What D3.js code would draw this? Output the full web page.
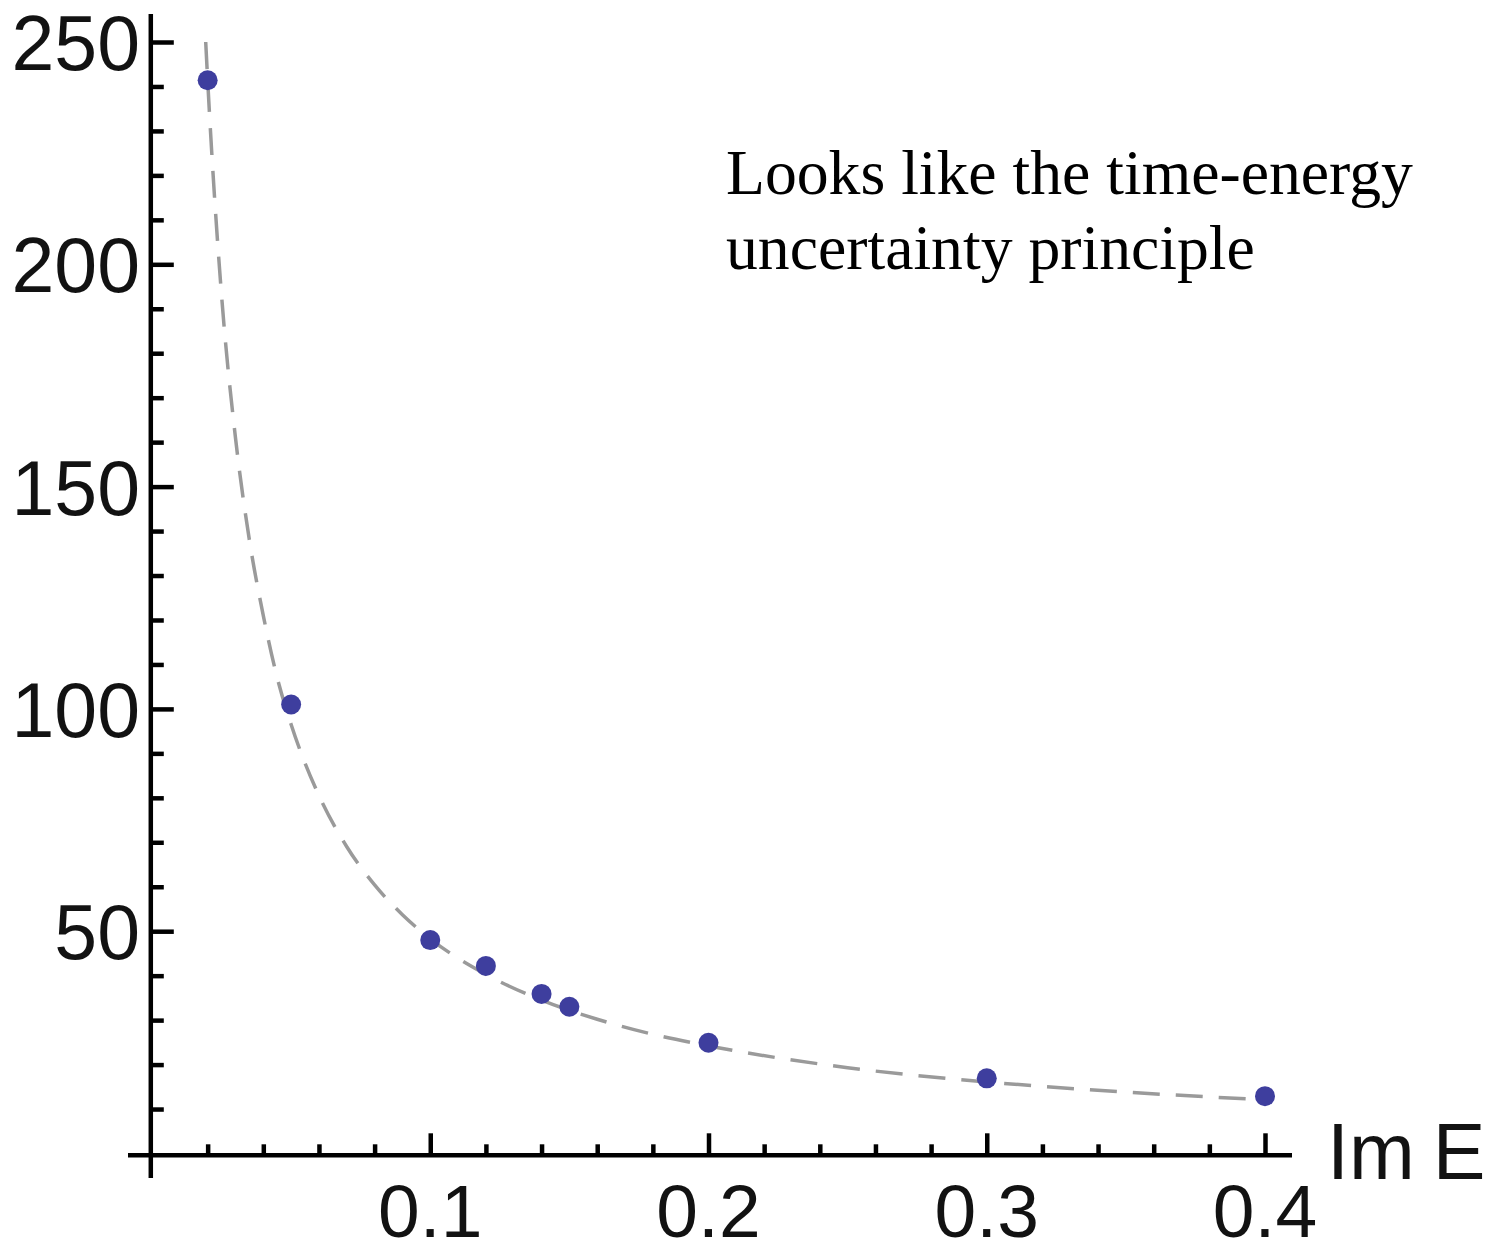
<!DOCTYPE html>
<html>
<head>
<meta charset="utf-8">
<script src="https://cdn.jsdelivr.net/npm/d3@7"></script>
<style>
  html, body { margin: 0; padding: 0; background: #fff; }
  svg { display: block; }
</style>
</head>
<body>
<svg id="chart" width="1499" height="1253"></svg>
<script>
// ---- data ----
const pointX = [0.02, 0.05, 0.10, 0.12, 0.14, 0.15, 0.20, 0.30, 0.40];
const pointY = [241.4, 101.0, 48.0, 42.2, 35.9, 33.0, 24.9, 16.9, 12.9];

// dashed fit curve, sampled along the drawn line
const curveX = [0.0193, 0.02, 0.025, 0.03, 0.035, 0.04, 0.045, 0.05, 0.06, 0.07, 0.08, 0.09, 0.10, 0.12, 0.14, 0.16, 0.18, 0.20, 0.25, 0.30, 0.35, 0.40];
const curveY = [250.0, 241.5, 193.0, 161.0, 138.0, 121.0, 107.0, 96.5, 80.5, 69.0, 60.4, 53.7, 48.3, 40.3, 34.5, 30.2, 26.8, 24.2, 19.3, 16.1, 13.8, 12.1];

const xMajorTicks = [0.1, 0.2, 0.3, 0.4];
const xMinorTicks = [0.02, 0.04, 0.06, 0.08, 0.12, 0.14, 0.16, 0.18, 0.22, 0.24, 0.26, 0.28, 0.32, 0.34, 0.36, 0.38];
const yMajorTicks = [50, 100, 150, 200, 250];
const yMinorTicks = [10, 20, 30, 40, 60, 70, 80, 90, 110, 120, 130, 140, 160, 170, 180, 190, 210, 220, 230, 240];
const xTickLabels = ["0.1", "0.2", "0.3", "0.4"];
const yTickLabels = ["50", "100", "150", "200", "250"];
const xAxisLabel = "Im E";
const noteLines = ["Looks like the time-energy", "uncertainty principle"];

// ---- layout ----
const svg = d3.select("#chart");
const x = d3.scaleLinear().domain([0, 0.4]).range([152, 1265]);
const y = d3.scaleLinear().domain([0, 250]).range([1153.5, 42]);
const axisY = 1155.3;   // pixel row of horizontal axis
const axisX = 150.8;    // pixel column of vertical axis
const lw = 4.5;
const tickFont = "'Liberation Sans', Arial, Helvetica, sans-serif";
const textColor = "#121212";

// ---- axes lines ----
svg.append("line")
  .attr("x1", 128).attr("x2", 1292)
  .attr("y1", axisY).attr("y2", axisY)
  .attr("stroke", "#000").attr("stroke-width", lw);
svg.append("line")
  .attr("x1", axisX).attr("x2", axisX)
  .attr("y1", 14).attr("y2", 1178)
  .attr("stroke", "#000").attr("stroke-width", lw);

// ---- ticks via d3 axes ----
function styleAxis(g) {
  g.select(".domain").remove();
  g.selectAll(".tick line").attr("stroke", "#000").attr("stroke-width", lw);
  g.selectAll(".tick text").remove();
}
svg.append("g").attr("transform", `translate(0,${axisY})`)
  .call(d3.axisTop(x).tickValues(xMajorTicks).tickSize(22).tickSizeOuter(0))
  .call(styleAxis);
svg.append("g").attr("transform", `translate(0,${axisY})`)
  .call(d3.axisTop(x).tickValues(xMinorTicks).tickSize(11).tickSizeOuter(0))
  .call(styleAxis);
svg.append("g").attr("transform", `translate(${axisX},0)`)
  .call(d3.axisRight(y).tickValues(yMajorTicks).tickSize(23).tickSizeOuter(0))
  .call(styleAxis);
svg.append("g").attr("transform", `translate(${axisX},0)`)
  .call(d3.axisRight(y).tickValues(yMinorTicks).tickSize(13).tickSizeOuter(0))
  .call(styleAxis);

// ---- tick labels ----
svg.append("g").selectAll("text")
  .data(xMajorTicks)
  .join("text")
  .attr("x", d => x(d))
  .attr("y", 1237)
  .attr("text-anchor", "middle")
  .attr("font-family", tickFont)
  .attr("font-size", 75)
  .attr("fill", textColor)
  .text((d, i) => xTickLabels[i]);

svg.append("g").selectAll("text")
  .data(yMajorTicks)
  .join("text")
  .attr("x", 140)
  .attr("y", d => y(d) + 28)
  .attr("text-anchor", "end")
  .attr("font-family", tickFont)
  .attr("font-size", 77)
  .attr("fill", textColor)
  .text((d, i) => yTickLabels[i]);

svg.append("text")
  .attr("x", 1327)
  .attr("y", 1179)
  .attr("font-family", tickFont)
  .attr("font-size", 79)
  .attr("word-spacing", -4)
  .attr("fill", textColor)
  .text(xAxisLabel);

// ---- dashed curve ----
const curveData = curveX.map((v, i) => [v, curveY[i]]);
const line = d3.line()
  .x(d => x(d[0]))
  .y(d => y(d[1]))
  .curve(d3.curveMonotoneX);
svg.append("path")
  .datum(curveData)
  .attr("d", line)
  .attr("fill", "none")
  .attr("stroke", "#9a9a9a")
  .attr("stroke-width", 3.5)
  .attr("stroke-dasharray", "27,16");

// ---- points ----
svg.append("g").selectAll("circle")
  .data(pointX.map((v, i) => [v, pointY[i]]))
  .join("circle")
  .attr("cx", d => x(d[0]))
  .attr("cy", d => y(d[1]))
  .attr("r", 10)
  .attr("fill", "#3e3e9e");

// ---- annotation ----
svg.append("g").selectAll("text")
  .data(noteLines)
  .join("text")
  .attr("x", 726)
  .attr("y", (d, i) => 194 + i * 75)
  .attr("font-family", "'Liberation Serif', 'Times New Roman', Times, serif")
  .attr("font-size", 63.7)
  .attr("fill", "#000")
  .text(d => d);
</script>
</body>
</html>
